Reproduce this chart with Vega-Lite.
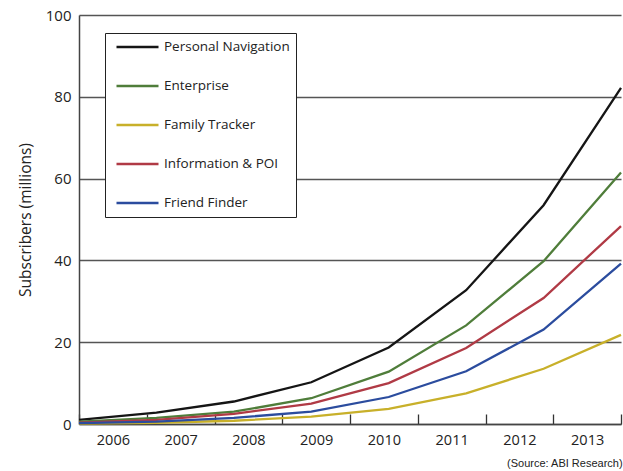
{
  "$schema": "https://vega.github.io/schema/vega-lite/v6.json",
  "width": 542,
  "height": 409,
  "autosize": {"type": "none"},
  "padding": {"left": 79, "top": 15, "right": 2, "bottom": 47},
  "background": "white",
  "config": {"view": {"stroke": null}, "font": "Open Sans"},
  "title": {"text": "(Source: ABI Research)", "orient": "bottom", "anchor": "end", "font": "Liberation Sans", "fontSize": 11, "fontWeight": "normal", "color": "#222", "offset": 11, "dx": -3},
  "data": {"values": [
    {"series": "Personal Navigation", "year": 2006, "value": 1.0},
    {"series": "Personal Navigation", "year": 2007, "value": 2.8},
    {"series": "Personal Navigation", "year": 2008, "value": 5.5},
    {"series": "Personal Navigation", "year": 2009, "value": 10.2},
    {"series": "Personal Navigation", "year": 2010, "value": 18.7},
    {"series": "Personal Navigation", "year": 2011, "value": 32.7},
    {"series": "Personal Navigation", "year": 2012, "value": 53.5},
    {"series": "Personal Navigation", "year": 2013, "value": 82.2},
    {"series": "Enterprise", "year": 2006, "value": 0.6},
    {"series": "Enterprise", "year": 2007, "value": 1.5},
    {"series": "Enterprise", "year": 2008, "value": 3.0},
    {"series": "Enterprise", "year": 2009, "value": 6.3},
    {"series": "Enterprise", "year": 2010, "value": 12.8},
    {"series": "Enterprise", "year": 2011, "value": 24.1},
    {"series": "Enterprise", "year": 2012, "value": 39.8},
    {"series": "Enterprise", "year": 2013, "value": 61.5},
    {"series": "Family Tracker", "year": 2006, "value": 0.1},
    {"series": "Family Tracker", "year": 2007, "value": 0.3},
    {"series": "Family Tracker", "year": 2008, "value": 0.8},
    {"series": "Family Tracker", "year": 2009, "value": 1.8},
    {"series": "Family Tracker", "year": 2010, "value": 3.7},
    {"series": "Family Tracker", "year": 2011, "value": 7.5},
    {"series": "Family Tracker", "year": 2012, "value": 13.5},
    {"series": "Family Tracker", "year": 2013, "value": 21.8},
    {"series": "Information & POI", "year": 2006, "value": 0.3},
    {"series": "Information & POI", "year": 2007, "value": 1.0},
    {"series": "Information & POI", "year": 2008, "value": 2.5},
    {"series": "Information & POI", "year": 2009, "value": 5.0},
    {"series": "Information & POI", "year": 2010, "value": 10.0},
    {"series": "Information & POI", "year": 2011, "value": 18.6},
    {"series": "Information & POI", "year": 2012, "value": 30.8},
    {"series": "Information & POI", "year": 2013, "value": 48.4},
    {"series": "Friend Finder", "year": 2006, "value": 0.2},
    {"series": "Friend Finder", "year": 2007, "value": 0.6},
    {"series": "Friend Finder", "year": 2008, "value": 1.5},
    {"series": "Friend Finder", "year": 2009, "value": 3.0},
    {"series": "Friend Finder", "year": 2010, "value": 6.6},
    {"series": "Friend Finder", "year": 2011, "value": 12.9},
    {"series": "Friend Finder", "year": 2012, "value": 23.1},
    {"series": "Friend Finder", "year": 2013, "value": 39.2}
  ]},
  "layer": [
    {
      "mark": {"type": "bar", "opacity": 0},
      "encoding": {
        "x": {
          "field": "year", "type": "ordinal",
          "scale": {"type": "band", "paddingInner": 0, "paddingOuter": 0},
          "axis": {"title": null, "tickBand": "extent", "tickSize": -10, "tickColor": "#333", "tickWidth": 1.3, "domainColor": "#444", "domainWidth": 1.5, "labelFontSize": 14.5, "labelColor": "#222", "labelPadding": 19, "labelAngle": 0, "grid": false}
        }
      }
    },
    {
      "mark": {"type": "line", "strokeWidth": 2.3},
      "encoding": {
        "x": {"field": "year", "type": "quantitative", "scale": {"domain": [2006, 2013], "nice": false, "zero": false}, "axis": null},
        "y": {
          "field": "value", "type": "quantitative",
          "scale": {"domain": [0, 100], "nice": false},
          "axis": {"values": [0, 20, 40, 60, 80, 100], "title": "Subscribers (millions)", "grid": true, "gridColor": "#555", "gridWidth": 1.3, "ticks": false, "domainColor": "#444", "domainWidth": 1.5, "labelFontSize": 15, "labelColor": "#222", "labelPadding": 8, "titleFontSize": 15.5, "titleFontWeight": "normal", "titleColor": "#222", "titlePadding": 12}
        },
        "color": {
          "field": "series", "type": "nominal",
          "scale": {
            "domain": ["Personal Navigation", "Enterprise", "Family Tracker", "Information & POI", "Friend Finder"],
            "range": ["#151515", "#4f7d3a", "#c8b02a", "#b03a45", "#2b4c9e"]
          },
          "legend": {
            "orient": "none", "legendX": 26, "legendY": 18, "title": null,
            "symbolType": "stroke", "symbolSize": 1764, "symbolStrokeWidth": 2.5,
            "clipHeight": 16, "rowPadding": 23, "padding": 6, "symbolOffset": 4,
            "labelOffset": 4, "labelFontSize": 13.5, "labelColor": "#222",
            "strokeColor": "#222", "fillColor": "white"
          }
        }
      }
    }
  ],
  "resolve": {"scale": {"x": "independent"}, "axis": {"x": "independent"}}
}
